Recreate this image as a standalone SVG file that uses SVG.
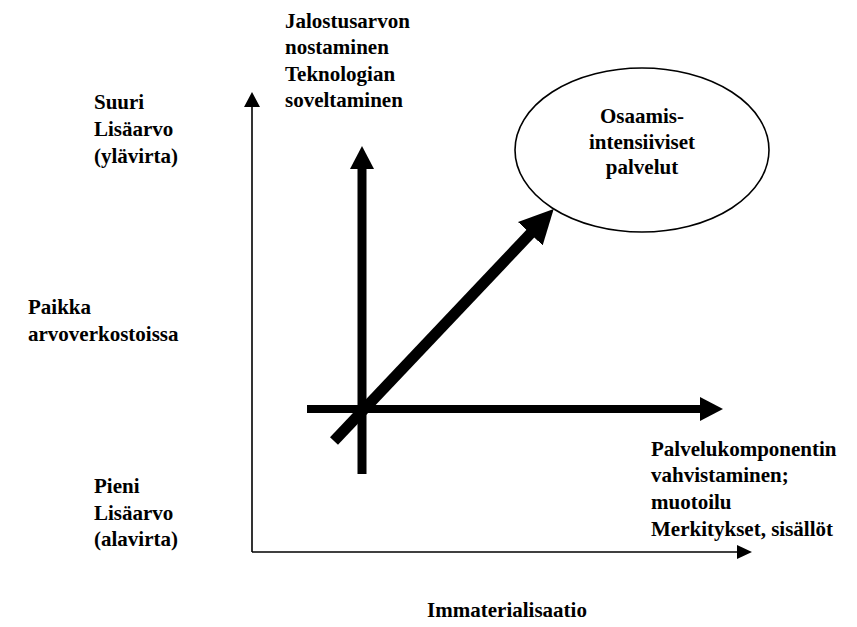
<svg xmlns="http://www.w3.org/2000/svg" width="857" height="627" viewBox="0 0 857 627">
<style>
  .t { font-family: 'Liberation Serif', 'DejaVu Serif', serif; font-weight: 700; font-size: 21px; fill: #000; }
  .mid { text-anchor: middle; }
  .thin { stroke: #000; stroke-width: 1.6; fill: none; }
  .thick { stroke: #000; fill: none; stroke-linecap: butt; }
</style>
<defs>
  <marker id="headThinV" markerUnits="userSpaceOnUse" markerWidth="16" markerHeight="16" refX="1" refY="8" orient="auto" viewBox="0 0 16 16">
    <path d="M0,0 L15,8 L0,16 z" fill="#000"/>
  </marker>
  <marker id="headThinH" markerUnits="userSpaceOnUse" markerWidth="16" markerHeight="14" refX="1" refY="7" orient="auto" viewBox="0 0 16 14">
    <path d="M0,0 L15,7 L0,14 z" fill="#000"/>
  </marker>
  <marker id="headBig" markerUnits="userSpaceOnUse" markerWidth="24" markerHeight="24" refX="1" refY="12" orient="auto" viewBox="0 0 24 24">
    <path d="M0,0 L23,12 L0,24 z" fill="#000"/>
  </marker>
  <marker id="headDiag" markerUnits="userSpaceOnUse" markerWidth="35" markerHeight="34" refX="1" refY="17" orient="auto" viewBox="0 0 35 34">
    <path d="M0,0 L34,17 L0,34 z" fill="#000"/>
  </marker>
</defs>

<g id="connectors">
  <line id="axis-y" class="thin" x1="252" y1="552" x2="252" y2="106" marker-end="url(#headThinV)"/>
  <line id="axis-x" class="thin" x1="252" y1="552" x2="738" y2="552" marker-end="url(#headThinH)"/>
  <line id="arrow-up" class="thick" stroke-width="9" x1="362" y1="474" x2="362" y2="168" marker-end="url(#headBig)"/>
  <line id="arrow-right" class="thick" stroke-width="8" x1="307" y1="409" x2="701" y2="409" marker-end="url(#headBig)"/>
  <line id="arrow-diag" class="thick" stroke-width="11" x1="334" y1="441" x2="531" y2="233" marker-end="url(#headDiag)"/>
</g>

<g id="node-osaamis">
  <ellipse cx="642" cy="150" rx="127" ry="82" fill="#fff" stroke="#000" stroke-width="1.6"/>
  <text class="t mid" x="642" y="123">Osaamis-</text>
  <text class="t mid" x="642" y="149">intensiiviset</text>
  <text class="t mid" x="642" y="174">palvelut</text>
</g>

<g id="label-top">
  <text class="t" x="285" y="28">Jalostusarvon</text>
  <text class="t" x="285" y="54">nostaminen</text>
  <text class="t" x="285" y="81">Teknologian</text>
  <text class="t" x="285" y="107">soveltaminen</text>
</g>

<g id="label-suuri">
  <text class="t" x="94" y="109">Suuri</text>
  <text class="t" x="94" y="136">Lisäarvo</text>
  <text class="t" x="94" y="163">(ylävirta)</text>
</g>

<g id="label-paikka">
  <text class="t" x="28" y="314">Paikka</text>
  <text class="t" x="28" y="341">arvoverkostoissa</text>
</g>

<g id="label-pieni">
  <text class="t" x="94" y="493">Pieni</text>
  <text class="t" x="94" y="520">Lisäarvo</text>
  <text class="t" x="94" y="546">(alavirta)</text>
</g>

<g id="label-palvelu">
  <text class="t" x="651" y="456">Palvelukomponentin</text>
  <text class="t" x="651" y="482">vahvistaminen;</text>
  <text class="t" x="651" y="509">muotoilu</text>
  <text class="t" x="651" y="536">Merkitykset, sisällöt</text>
</g>

<g id="label-immaterialisaatio">
  <text class="t mid" x="507" y="617">Immaterialisaatio</text>
</g>
</svg>
